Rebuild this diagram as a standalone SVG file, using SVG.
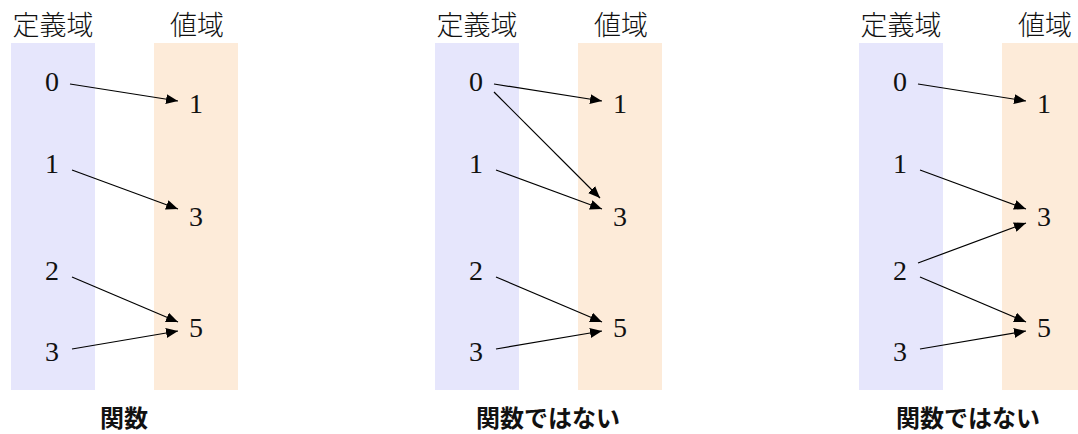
<svg xmlns="http://www.w3.org/2000/svg" width="1078" height="434" viewBox="0 0 1078 434">
<style>
.dom{fill:#e6e6fc}
.rng{fill:#fdebd9}
.hd{font-family:"Noto Sans CJK JP","Noto Sans CJK SC",sans-serif;font-size:27px;font-weight:300;fill:#111;text-anchor:middle}
.num{font-family:"Liberation Serif","DejaVu Serif",serif;font-size:28px;fill:#111;text-anchor:middle}
.cap{font-family:"Noto Sans CJK JP","Noto Sans CJK SC",sans-serif;font-size:24px;font-weight:bold;fill:#111;text-anchor:middle}
.ar{stroke:#000;stroke-width:1.2;fill:none;marker-end:url(#ah)}
</style>
<defs>
<marker id="ah" viewBox="0 0 12 10" refX="12" refY="5" markerWidth="12" markerHeight="10" markerUnits="userSpaceOnUse" orient="auto">
<path d="M0,0 L12,5 L0,10 Z" fill="#000"/>
</marker>
</defs>
<rect fill="#fff" x="0" y="0" width="1078" height="434"/>

<g id="panel1">
<rect class="dom" x="11" y="43" width="84" height="347"/>
<rect class="rng" x="154" y="43" width="84" height="347"/>
<text class="hd" x="53" y="35">定義域</text>
<text class="hd" x="197" y="35">値域</text>
<g id="p1-d0"><text class="num" x="52" y="91">0</text></g>
<g id="p1-d1"><text class="num" x="52" y="173">1</text></g>
<g id="p1-d2"><text class="num" x="52" y="280">2</text></g>
<g id="p1-d3"><text class="num" x="52" y="361">3</text></g>
<g id="p1-r1"><text class="num" x="196" y="113">1</text></g>
<g id="p1-r3"><text class="num" x="196" y="226">3</text></g>
<g id="p1-r5"><text class="num" x="196" y="337">5</text></g>
<text class="cap" x="124" y="427">関数</text>
</g>

<g id="panel2">
<rect class="dom" x="435" y="43" width="84" height="347"/>
<rect class="rng" x="578" y="43" width="84" height="347"/>
<text class="hd" x="477" y="35">定義域</text>
<text class="hd" x="621" y="35">値域</text>
<g id="p2-d0"><text class="num" x="476" y="91">0</text></g>
<g id="p2-d1"><text class="num" x="476" y="173">1</text></g>
<g id="p2-d2"><text class="num" x="476" y="280">2</text></g>
<g id="p2-d3"><text class="num" x="476" y="361">3</text></g>
<g id="p2-r1"><text class="num" x="620" y="113">1</text></g>
<g id="p2-r3"><text class="num" x="620" y="226">3</text></g>
<g id="p2-r5"><text class="num" x="620" y="337">5</text></g>
<text class="cap" x="548" y="427">関数ではない</text>
</g>

<g id="panel3">
<rect class="dom" x="859" y="43" width="84" height="347"/>
<rect class="rng" x="1002" y="43" width="84" height="347"/>
<text class="hd" x="901" y="35">定義域</text>
<text class="hd" x="1045" y="35">値域</text>
<g id="p3-d0"><text class="num" x="900" y="91">0</text></g>
<g id="p3-d1"><text class="num" x="900" y="173">1</text></g>
<g id="p3-d2"><text class="num" x="900" y="280">2</text></g>
<g id="p3-d3"><text class="num" x="900" y="361">3</text></g>
<g id="p3-r1"><text class="num" x="1044" y="113">1</text></g>
<g id="p3-r3"><text class="num" x="1044" y="226">3</text></g>
<g id="p3-r5"><text class="num" x="1044" y="337">5</text></g>
<text class="cap" x="968" y="427">関数ではない</text>
</g>

<g id="connectors">
<line class="ar" x1="70" y1="84" x2="178" y2="101"/>
<line class="ar" x1="72" y1="170" x2="178" y2="209"/>
<line class="ar" x1="72" y1="277" x2="178" y2="322"/>
<line class="ar" x1="72" y1="349" x2="178" y2="331"/>

<line class="ar" x1="494" y1="84" x2="602" y2="101"/>
<line class="ar" x1="494" y1="92" x2="600" y2="198"/>
<line class="ar" x1="496" y1="170" x2="602" y2="209"/>
<line class="ar" x1="496" y1="277" x2="602" y2="322"/>
<line class="ar" x1="496" y1="349" x2="602" y2="331"/>

<line class="ar" x1="918" y1="84" x2="1026" y2="101"/>
<line class="ar" x1="920" y1="170" x2="1026" y2="209"/>
<line class="ar" x1="918" y1="263" x2="1026" y2="223"/>
<line class="ar" x1="920" y1="277" x2="1026" y2="322"/>
<line class="ar" x1="920" y1="349" x2="1026" y2="331"/>
</g>
</svg>
